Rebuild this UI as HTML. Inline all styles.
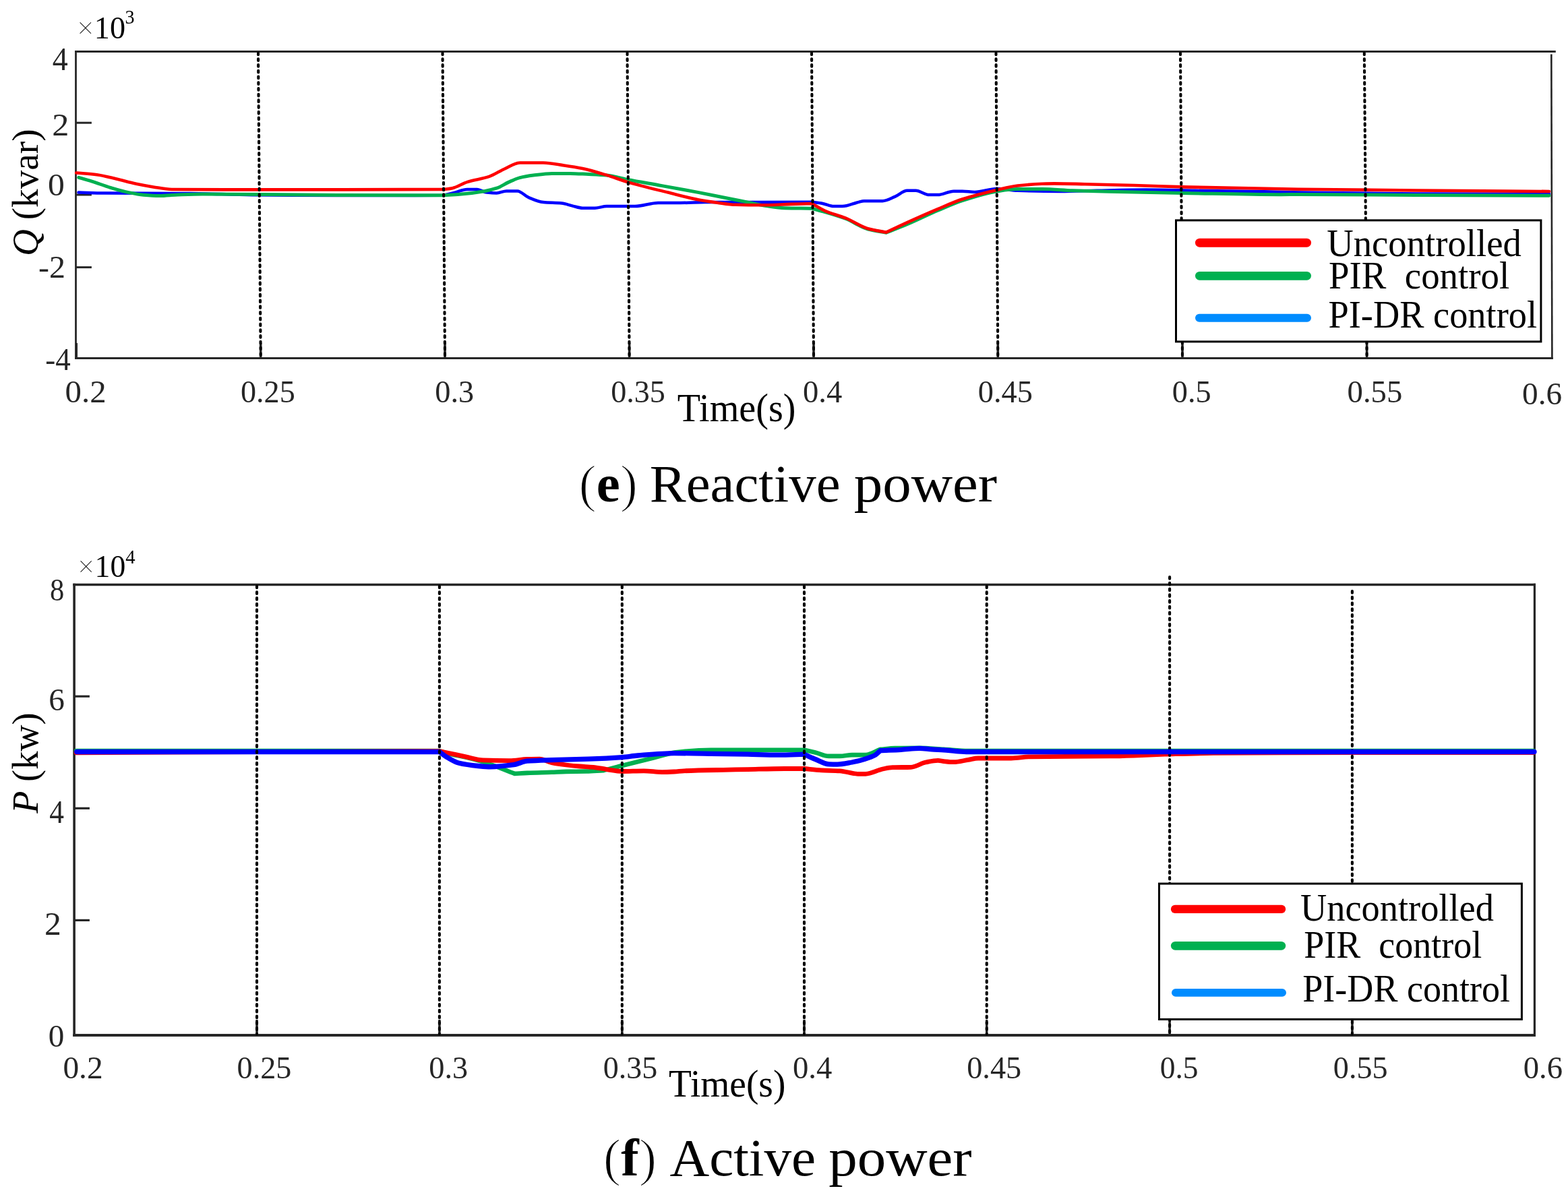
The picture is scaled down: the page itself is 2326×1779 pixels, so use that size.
<!DOCTYPE html>
<html lang="en">
<head>
<meta charset="utf-8">
<title>Reactive and active power</title>
<style>
html,body{margin:0;padding:0;background:#fff;}
body{width:2326px;height:1779px;overflow:hidden;}
svg{display:block;}
svg text{font-family:"Liberation Serif","DejaVu Serif",serif;}
</style>
</head>
<body>
<svg width="2326" height="1779" viewBox="0 0 2326 1779">
<rect x="0" y="0" width="2326" height="1779" fill="#ffffff"/>
<line x1="386.7" y1="509" x2="386.7" y2="531.6" stroke="#262626" stroke-width="3.6" stroke-linecap="butt"/>
<line x1="660" y1="509" x2="660" y2="531.6" stroke="#262626" stroke-width="3.6" stroke-linecap="butt"/>
<line x1="933.6" y1="509" x2="933.6" y2="531.6" stroke="#262626" stroke-width="3.6" stroke-linecap="butt"/>
<line x1="1207" y1="509" x2="1207" y2="531.6" stroke="#262626" stroke-width="3.6" stroke-linecap="butt"/>
<line x1="1480.3" y1="509" x2="1480.3" y2="531.6" stroke="#262626" stroke-width="3.6" stroke-linecap="butt"/>
<line x1="1754" y1="509" x2="1754" y2="531.6" stroke="#262626" stroke-width="3.6" stroke-linecap="butt"/>
<line x1="2027.6" y1="509" x2="2027.6" y2="531.6" stroke="#262626" stroke-width="3.6" stroke-linecap="butt"/>
<line x1="111.1" y1="76.5" x2="2307.8" y2="76.5" stroke="#262626" stroke-width="2.8" stroke-linecap="butt"/>
<line x1="111.1" y1="531.6" x2="2303.8" y2="531.6" stroke="#262626" stroke-width="3" stroke-linecap="butt"/>
<line x1="112.5" y1="75.1" x2="112.5" y2="533.1" stroke="#262626" stroke-width="2.8" stroke-linecap="butt"/>
<line x1="2301.3" y1="80.4" x2="2302.4" y2="533.1" stroke="#262626" stroke-width="2.6" stroke-linecap="butt"/>
<line x1="112.5" y1="182.2" x2="135.9" y2="182.2" stroke="#262626" stroke-width="3" stroke-linecap="butt"/>
<line x1="112.5" y1="289" x2="135.9" y2="289" stroke="#262626" stroke-width="3" stroke-linecap="butt"/>
<line x1="112.5" y1="396.6" x2="135.9" y2="396.6" stroke="#262626" stroke-width="3" stroke-linecap="butt"/>
<line x1="113.3" y1="509" x2="113.3" y2="531.6" stroke="#262626" stroke-width="3.4" stroke-linecap="butt"/>
<path d="M116.5,285.6C129.2,285.9 141.9,286.4 154.6,286.5C197.1,286.8 239.5,286.7 282.0,287.0C312.3,287.2 342.7,288.9 373.0,289.2C415.3,289.7 457.7,290.1 500.0,290.1C552.8,290.1 605.6,289.9 658.4,289.8C663.9,288.4 669.3,287.0 674.8,285.6C680.9,284.1 686.9,281.0 693.0,281.0C697.9,281.0 702.7,281.0 707.6,281.0C712.4,281.0 717.3,285.1 722.1,285.6C727.0,286.1 731.8,286.5 736.7,286.5C741.6,286.5 746.4,283.4 751.3,283.4C756.7,283.4 762.2,283.4 767.6,283.4C773.1,283.4 778.5,290.6 784.0,292.9C791.3,296.0 798.6,299.4 805.9,300.1C815.0,301.0 824.1,300.7 833.2,301.6C838.7,302.1 844.1,304.4 849.6,305.6C854.4,306.7 859.3,308.7 864.1,308.7C870.2,308.7 876.2,308.7 882.3,308.7C888.2,308.7 894.1,306.1 900.0,306.1C914.0,306.1 927.9,306.1 941.9,306.1C953.4,306.1 965.0,301.0 976.5,301.0C987.4,301.0 998.3,301.0 1009.2,301.0C1021.4,301.0 1033.5,300.2 1045.7,300.1C1098.5,299.9 1151.2,299.9 1204.0,299.8C1209.5,300.5 1214.9,301.0 1220.4,302.0C1225.9,303.0 1231.3,306.1 1236.8,306.1C1241.1,306.1 1245.3,306.1 1249.6,306.1C1257.3,306.1 1265.1,301.9 1272.8,300.1C1275.8,299.4 1278.9,298.2 1281.9,298.2C1291.0,298.2 1300.1,298.2 1309.2,298.2C1315.3,298.2 1321.3,294.4 1327.4,291.9C1333.5,289.4 1339.6,282.8 1345.7,282.8C1349.9,282.8 1354.2,282.8 1358.4,282.8C1365.1,282.8 1371.7,289.1 1378.4,289.1C1382.7,289.1 1386.9,289.1 1391.2,289.1C1399.1,289.1 1406.9,283.7 1414.8,283.7C1419.1,283.7 1423.3,283.7 1427.6,283.7C1433.7,283.7 1439.7,285.0 1445.8,285.0C1456.7,285.0 1467.7,280.0 1478.6,280.0C1488.9,280.0 1499.2,282.4 1509.5,282.8C1530.6,283.6 1551.7,284.1 1572.8,284.1C1591.0,284.1 1609.2,283.2 1627.4,282.8C1651.7,282.3 1676.0,281.6 1700.3,281.6C1724.6,281.6 1748.8,282.4 1773.1,282.8C1803.4,283.3 1833.8,283.6 1864.1,284.1C1884.7,284.5 1905.4,285.2 1926.0,285.5C1984.0,286.4 2042.0,287.3 2100.0,287.5C2166.0,287.8 2232.0,287.8 2298.0,288.0" fill="none" stroke="#0000ff" stroke-width="4.5" stroke-linejoin="round" stroke-linecap="round"/>
<path d="M116.8,263.4C123.3,265.3 129.9,267.2 136.4,269.2C145.5,272.0 154.6,275.6 163.7,278.3C172.8,281.0 181.9,283.8 191.0,285.6C198.3,287.1 205.6,288.6 212.9,289.2C220.8,289.9 228.6,290.5 236.5,290.5C245.6,290.5 254.8,289.2 263.9,288.9C276.0,288.5 288.2,288.0 300.3,288.0C330.5,288.0 360.8,288.3 391.0,288.5C427.3,288.7 463.7,289.3 500.0,289.4C552.8,289.6 605.6,289.7 658.4,289.8C666.3,289.3 674.1,288.9 682.0,288.3C694.2,287.3 706.3,285.8 718.5,283.7C724.6,282.6 730.6,281.2 736.7,279.2C742.8,277.2 748.8,272.8 754.9,270.1C760.4,267.7 765.8,265.1 771.3,263.7C778.0,262.0 784.6,261.0 791.3,260.1C800.4,258.9 809.5,257.4 818.6,257.4C827.7,257.4 836.8,257.4 845.9,257.4C855.0,257.4 864.1,258.2 873.2,258.6C882.1,259.0 891.1,259.3 900.0,260.1C910.3,261.0 920.7,264.5 931.0,266.5C948.0,269.8 964.9,272.5 981.9,275.6C1000.1,278.9 1018.4,282.1 1036.6,285.6C1051.8,288.5 1066.9,291.7 1082.1,294.7C1091.2,296.5 1100.3,298.3 1109.4,300.1C1118.5,301.9 1127.6,304.3 1136.7,305.6C1145.8,306.9 1154.9,308.5 1164.0,308.7C1177.3,309.0 1190.7,309.0 1204.0,309.2C1210.6,311.0 1217.1,312.7 1223.7,314.6C1234.0,317.6 1244.3,320.6 1254.6,324.5C1265.5,328.7 1276.5,337.1 1287.4,340.0C1296.5,342.4 1305.6,343.5 1314.7,345.2C1325.0,341.1 1335.4,337.2 1345.7,332.8C1360.9,326.4 1376.0,318.7 1391.2,312.3C1403.3,307.2 1415.5,301.6 1427.6,297.7C1444.6,292.2 1461.6,286.6 1478.6,284.0C1488.9,282.4 1499.2,280.6 1509.5,280.6C1521.6,280.6 1533.8,280.6 1545.9,280.6C1560.9,280.6 1576.0,282.3 1591.0,282.8C1609.2,283.4 1627.5,283.9 1645.7,284.3C1682.1,285.2 1718.5,285.9 1754.9,286.5C1803.3,287.3 1851.6,288.7 1900.0,288.7C1908.7,288.7 1917.3,288.5 1926.0,288.5C1984.0,288.5 2042.0,289.3 2100.0,289.6C2166.0,289.9 2232.0,290.1 2298.0,290.3" fill="none" stroke="#00b050" stroke-width="5.0" stroke-linejoin="round" stroke-linecap="round"/>
<path d="M113.2,256.5C123.4,257.4 133.5,257.9 143.7,259.2C153.4,260.4 163.1,263.2 172.8,265.5C182.5,267.8 192.3,270.8 202.0,272.8C210.5,274.6 218.9,276.1 227.4,277.4C236.5,278.8 245.7,280.9 254.8,281.0C282.1,281.3 309.4,281.4 336.7,281.4C391.1,281.4 445.6,281.4 500.0,281.4C552.8,281.4 605.6,281.1 658.4,281.0C662.6,280.4 666.9,280.1 671.1,279.2C678.4,277.7 685.7,272.4 693.0,270.1C703.9,266.6 714.9,265.6 725.8,261.9C733.1,259.4 740.3,254.2 747.6,251.0C755.5,247.5 763.4,241.5 771.3,241.5C782.8,241.5 794.4,241.5 805.9,241.5C816.2,241.5 826.5,244.0 836.8,245.5C845.9,246.8 855.0,248.2 864.1,250.1C876.1,252.6 888.0,256.3 900.0,259.9C910.3,263.0 920.7,267.1 931.0,270.1C951.0,276.0 971.0,280.6 991.0,285.6C1006.2,289.4 1021.4,293.7 1036.6,296.5C1045.7,298.2 1054.8,299.5 1063.9,300.7C1073.0,301.9 1082.1,303.6 1091.2,303.8C1103.3,304.1 1115.5,304.3 1127.6,304.3C1142.8,304.3 1157.9,303.4 1173.1,302.9C1183.4,302.6 1193.7,302.3 1204.0,302.0C1210.6,305.6 1217.1,309.9 1223.7,312.8C1234.0,317.3 1244.3,319.5 1254.6,323.7C1265.5,328.1 1276.5,336.1 1287.4,339.2C1296.5,341.7 1305.6,342.9 1314.7,344.7C1325.0,339.8 1335.4,334.8 1345.7,330.1C1360.9,323.2 1376.0,316.5 1391.2,310.1C1403.3,305.0 1415.5,299.4 1427.6,295.5C1444.6,290.0 1461.6,285.8 1478.6,281.9C1488.9,279.5 1499.2,276.6 1509.5,275.5C1521.6,274.2 1533.8,273.2 1545.9,272.8C1552.0,272.6 1558.0,272.4 1564.1,272.4C1579.1,272.4 1594.2,272.9 1609.2,273.2C1633.5,273.7 1657.8,274.3 1682.1,275.0C1706.4,275.7 1730.6,276.8 1754.9,277.4C1779.2,278.0 1803.4,278.2 1827.7,278.7C1860.5,279.3 1893.2,280.2 1926.0,280.7C1984.0,281.5 2042.0,282.0 2100.0,282.5C2166.0,283.1 2232.0,283.5 2298.0,284.0" fill="none" stroke="#ff0000" stroke-width="4.6" stroke-linejoin="round" stroke-linecap="round"/>
<line x1="383" y1="78.5" x2="386.7" y2="529.6" stroke="#000" stroke-width="4.1" stroke-linecap="round" stroke-dasharray="2.7 6.04"/>
<line x1="656.5" y1="78.5" x2="660" y2="529.6" stroke="#000" stroke-width="4.1" stroke-linecap="round" stroke-dasharray="2.7 6.04"/>
<line x1="930.5" y1="78.5" x2="933.6" y2="529.6" stroke="#000" stroke-width="4.1" stroke-linecap="round" stroke-dasharray="2.7 6.04"/>
<line x1="1204" y1="78.5" x2="1207" y2="529.6" stroke="#000" stroke-width="4.1" stroke-linecap="round" stroke-dasharray="2.7 6.04"/>
<line x1="1477.5" y1="78.5" x2="1480.3" y2="529.6" stroke="#000" stroke-width="4.1" stroke-linecap="round" stroke-dasharray="2.7 6.04"/>
<line x1="1751" y1="78.5" x2="1754" y2="529.6" stroke="#000" stroke-width="4.1" stroke-linecap="round" stroke-dasharray="2.7 6.04"/>
<line x1="2023.8" y1="78.5" x2="2027.6" y2="529.6" stroke="#000" stroke-width="4.1" stroke-linecap="round" stroke-dasharray="2.7 6.04"/>
<rect x="1744.5" y="326.9" width="541.4" height="180.0" fill="#fff" stroke="#000" stroke-width="3"/>
<line x1="1779.55" y1="360.2" x2="1938.45" y2="360.2" stroke="#ff0000" stroke-width="13.1" stroke-linecap="round"/>
<line x1="1779.4" y1="409.3" x2="1938.6" y2="409.3" stroke="#00b050" stroke-width="12.8" stroke-linecap="round"/>
<line x1="1779.0" y1="471.7" x2="1939.0" y2="471.7" stroke="#008cff" stroke-width="12" stroke-linecap="round"/>
<text transform="translate(1968.21,379.50) scale(0.9685,1)" font-size="56.50" fill="#000000" xml:space="preserve">Uncontrolled</text>
<text transform="translate(1971.05,428.30) scale(0.9709,1)" font-size="56.50" fill="#000000" xml:space="preserve">PIR  control</text>
<text transform="translate(1970.47,485.50) scale(0.9626,1)" font-size="56.50" fill="#000000" xml:space="preserve">PI-DR control</text>
<text transform="translate(77.68,104.14) scale(0.9681,1)" font-size="47.54" fill="#262626" xml:space="preserve">4</text>
<text transform="translate(77.24,201.10) scale(1.0733,1)" font-size="46.82" fill="#262626" xml:space="preserve">2</text>
<text transform="translate(70.91,289.54) scale(1.0844,1)" font-size="45.78" fill="#262626" xml:space="preserve">0</text>
<text transform="translate(57.02,411.80) scale(1.0214,1)" font-size="46.97" fill="#262626" xml:space="preserve">-2</text>
<text transform="translate(67.33,548.93) scale(0.9622,1)" font-size="46.77" fill="#262626" xml:space="preserve">-4</text>
<text transform="translate(113.77,56.73) scale(0.9911,1)" font-size="46.67" fill="#000000" xml:space="preserve"><tspan stroke="#fff" stroke-width="1.3">×</tspan>10</text>
<text transform="translate(185.60,35.00) scale(0.9396,1)" font-size="29.85" fill="#000000" xml:space="preserve">3</text>
<text transform="translate(96.55,597.19) scale(1.0377,1)" font-size="47.06" fill="#262626" xml:space="preserve">0.2</text>
<text transform="translate(356.95,597.19) scale(0.9811,1)" font-size="47.06" fill="#262626" xml:space="preserve">0.25</text>
<text transform="translate(645.25,597.19) scale(0.9844,1)" font-size="47.06" fill="#262626" xml:space="preserve">0.3</text>
<text transform="translate(906.15,597.19) scale(0.9811,1)" font-size="47.06" fill="#262626" xml:space="preserve">0.35</text>
<text transform="translate(1191.04,597.19) scale(0.9905,1)" font-size="47.06" fill="#262626" xml:space="preserve">0.4</text>
<text transform="translate(1450.75,597.19) scale(0.9849,1)" font-size="47.06" fill="#262626" xml:space="preserve">0.45</text>
<text transform="translate(1738.85,597.19) scale(0.9844,1)" font-size="47.06" fill="#262626" xml:space="preserve">0.5</text>
<text transform="translate(1998.53,597.19) scale(0.9925,1)" font-size="47.06" fill="#262626" xml:space="preserve">0.55</text>
<text transform="translate(2258.11,599.70) scale(1.0080,1)" font-size="46.91" fill="#262626" xml:space="preserve">0.6</text>
<text transform="translate(1004.78,624.50) scale(0.9657,1)" font-size="58.11" fill="#000000" xml:space="preserve">Time(s)</text>
<text transform="translate(56.25,380.04) rotate(-90) scale(1.0043,1)" font-size="55.00" fill="#000000" xml:space="preserve"><tspan font-style="italic">Q</tspan> (kvar)</text>
<text transform="translate(858.56,743.60) scale(1.0104,1)" font-size="78.00" fill="#000000" xml:space="preserve"><tspan stroke="#fff" stroke-width="1.7">(</tspan><tspan font-weight="bold">e</tspan><tspan stroke="#fff" stroke-width="1.7">)</tspan></text>
<text transform="translate(963.77,743.60) scale(1.0368,1)" font-size="78.00" fill="#000000" xml:space="preserve">Reactive</text>
<text transform="translate(1266.72,743.60) scale(1.0899,1)" font-size="78.00" fill="#000000" xml:space="preserve">power</text>
<line x1="381" y1="1513" x2="381" y2="1536.0" stroke="#262626" stroke-width="3.5" stroke-linecap="butt"/>
<line x1="651.9" y1="1513" x2="651.9" y2="1536.0" stroke="#262626" stroke-width="3.5" stroke-linecap="butt"/>
<line x1="922.8" y1="1513" x2="922.8" y2="1536.0" stroke="#262626" stroke-width="3.5" stroke-linecap="butt"/>
<line x1="1193" y1="1513" x2="1193" y2="1536.0" stroke="#262626" stroke-width="3.5" stroke-linecap="butt"/>
<line x1="1463.7" y1="1513" x2="1463.7" y2="1536.0" stroke="#262626" stroke-width="3.5" stroke-linecap="butt"/>
<line x1="1735.1" y1="1513" x2="1735.1" y2="1536.0" stroke="#262626" stroke-width="3.5" stroke-linecap="butt"/>
<line x1="2005.9" y1="1513" x2="2005.9" y2="1536.0" stroke="#262626" stroke-width="3.5" stroke-linecap="butt"/>
<line x1="108.3" y1="867.5" x2="2278" y2="867.5" stroke="#262626" stroke-width="3.4" stroke-linecap="butt"/>
<line x1="108.3" y1="1536.0" x2="2278" y2="1536.0" stroke="#262626" stroke-width="3.8" stroke-linecap="butt"/>
<line x1="110.1" y1="865.8" x2="110.1" y2="1537.9" stroke="#262626" stroke-width="3.6" stroke-linecap="butt"/>
<line x1="2276.4" y1="865.8" x2="2276.4" y2="1537.9" stroke="#262626" stroke-width="3.2" stroke-linecap="butt"/>
<line x1="110.1" y1="1033.2" x2="132.9" y2="1033.2" stroke="#262626" stroke-width="3.2" stroke-linecap="butt"/>
<line x1="110.1" y1="1199.3" x2="132.9" y2="1199.3" stroke="#262626" stroke-width="3.2" stroke-linecap="butt"/>
<line x1="110.1" y1="1365.4" x2="132.9" y2="1365.4" stroke="#262626" stroke-width="3.2" stroke-linecap="butt"/>
<path d="M113.0,1114.1C292.6,1114.1 472.3,1114.1 651.9,1114.1C655.8,1115.3 659.8,1116.7 663.7,1117.7C672.8,1120.1 681.9,1121.4 691.0,1123.6C699.5,1125.6 708.0,1127.8 716.5,1130.4C732.1,1135.2 747.8,1142.1 763.4,1147.9C769.6,1147.6 775.9,1147.1 782.1,1146.9C794.2,1146.4 806.4,1146.2 818.5,1145.8C825.7,1145.5 832.8,1145.0 840.0,1144.9C850.0,1144.7 860.0,1144.7 870.0,1144.5C878.3,1144.3 886.7,1143.6 895.0,1143.2C904.3,1140.8 913.5,1138.3 922.8,1136.0C930.5,1134.1 938.2,1132.2 945.9,1130.3C950.6,1129.1 955.3,1128.0 960.0,1126.8C966.7,1125.1 973.3,1123.3 980.0,1121.6C986.7,1119.9 993.3,1117.4 1000.0,1116.6C1018.2,1114.4 1036.4,1112.8 1054.6,1112.8C1100.7,1112.8 1146.9,1112.8 1193.0,1112.8C1198.5,1114.0 1203.9,1115.2 1209.4,1116.5C1216.1,1118.1 1222.7,1121.9 1229.4,1121.9C1234.9,1121.9 1240.3,1121.9 1245.8,1121.9C1251.9,1121.9 1257.9,1120.1 1264.0,1120.1C1270.7,1120.1 1277.3,1120.1 1284.0,1120.1C1291.3,1120.1 1298.6,1114.6 1305.9,1111.9C1313.2,1111.3 1320.4,1110.3 1327.7,1110.1C1339.8,1109.8 1352.0,1109.7 1364.1,1109.7C1376.1,1109.7 1388.0,1111.2 1400.0,1111.9C1412.1,1112.6 1424.3,1114.1 1436.4,1114.1C1715.9,1114.1 1995.5,1114.1 2275.0,1114.1" fill="none" stroke="#00b050" stroke-width="6.6" stroke-linejoin="round" stroke-linecap="round"/>
<path d="M113.0,1116.8C292.6,1116.0 472.3,1115.3 651.9,1114.5C655.8,1115.3 659.8,1116.2 663.7,1117.0C672.8,1118.9 681.9,1120.9 691.0,1122.8C699.5,1124.6 708.0,1127.6 716.5,1127.9C729.3,1128.4 742.0,1128.7 754.8,1128.7C763.9,1128.7 773.0,1126.8 782.1,1126.5C788.2,1126.3 794.2,1126.1 800.3,1126.1C806.4,1126.1 812.4,1130.3 818.5,1131.6C825.7,1133.1 832.8,1134.1 840.0,1135.0C846.7,1135.8 853.3,1136.5 860.0,1137.0C866.7,1137.5 873.3,1137.7 880.0,1138.3C886.7,1138.9 893.3,1140.6 900.0,1141.6C907.6,1142.7 915.2,1144.5 922.8,1144.5C933.5,1144.5 944.3,1143.8 955.0,1143.8C964.1,1143.8 973.2,1145.6 982.3,1145.6C988.2,1145.6 994.1,1145.3 1000.0,1145.0C1004.9,1144.8 1009.7,1144.0 1014.6,1143.8C1034.0,1143.0 1053.4,1142.7 1072.8,1142.3C1084.9,1142.0 1097.1,1141.8 1109.2,1141.6C1127.4,1141.2 1145.7,1140.5 1163.9,1140.5C1173.6,1140.5 1183.3,1140.5 1193.0,1140.5C1201.5,1141.3 1210.0,1142.5 1218.5,1142.9C1227.6,1143.3 1236.7,1143.3 1245.8,1143.8C1254.9,1144.3 1264.0,1148.3 1273.1,1148.3C1276.7,1148.3 1280.4,1148.3 1284.0,1148.3C1292.5,1148.3 1301.0,1142.7 1309.5,1141.0C1314.4,1140.0 1319.2,1138.8 1324.1,1138.7C1333.2,1138.4 1342.3,1138.6 1351.4,1138.3C1358.7,1138.1 1365.9,1132.5 1373.2,1131.0C1379.3,1129.8 1385.3,1128.3 1391.4,1128.3C1394.3,1128.3 1397.1,1129.3 1400.0,1129.6C1404.9,1130.1 1409.7,1130.7 1414.6,1130.7C1421.9,1130.7 1429.1,1128.5 1436.4,1127.4C1441.3,1126.6 1446.1,1125.0 1451.0,1125.0C1467.3,1125.0 1483.7,1125.0 1500.0,1125.0C1509.1,1125.0 1518.3,1123.0 1527.4,1122.8C1545.6,1122.5 1563.8,1122.4 1582.0,1122.3C1603.3,1122.1 1624.5,1122.1 1645.8,1121.9C1657.9,1121.8 1670.1,1121.4 1682.2,1121.0C1697.4,1120.5 1712.5,1119.7 1727.7,1119.2C1751.8,1118.5 1775.9,1117.6 1800.0,1117.4C1866.7,1116.9 1933.3,1116.6 2000.0,1116.6C2091.7,1116.6 2183.3,1116.6 2275.0,1116.6" fill="none" stroke="#ff0000" stroke-width="6.8" stroke-linejoin="round" stroke-linecap="round"/>
<line x1="922.8" y1="869.5" x2="922.8" y2="1534.0" stroke="#000" stroke-width="4.1" stroke-linecap="round" stroke-dasharray="2.7 6.04"/>
<line x1="1463.7" y1="869.5" x2="1463.7" y2="1534.0" stroke="#000" stroke-width="4.1" stroke-linecap="round" stroke-dasharray="2.7 6.04"/>
<line x1="1735.1" y1="856" x2="1735.1" y2="1534.0" stroke="#000" stroke-width="4.1" stroke-linecap="round" stroke-dasharray="2.7 6.04"/>
<line x1="2005.9" y1="877" x2="2005.9" y2="1534.0" stroke="#000" stroke-width="4.1" stroke-linecap="round" stroke-dasharray="2.7 6.04"/>
<path d="M113.8,1115.5C293.2,1115.5 472.5,1115.5 651.9,1115.5C655.2,1117.9 658.6,1120.8 661.9,1122.8C668.0,1126.5 674.0,1130.5 680.1,1132.0C689.8,1134.4 699.5,1135.6 709.2,1136.5C715.3,1137.1 721.3,1137.8 727.4,1137.8C738.9,1137.8 750.5,1136.3 762.0,1134.7C768.7,1133.8 775.4,1129.7 782.1,1129.2C794.2,1128.2 806.4,1128.0 818.5,1127.6C836.7,1127.0 854.9,1126.8 873.1,1126.2C889.7,1125.6 906.2,1124.8 922.8,1123.6C930.5,1123.0 938.2,1121.6 945.9,1121.0C963.9,1119.5 982.0,1117.6 1000.0,1117.6C1018.2,1117.6 1036.4,1118.0 1054.6,1118.3C1072.8,1118.6 1091.0,1118.9 1109.2,1119.2C1124.4,1119.5 1139.6,1120.1 1154.8,1120.1C1167.5,1120.1 1180.3,1119.5 1193.0,1119.2C1198.5,1121.6 1203.9,1124.3 1209.4,1126.5C1216.1,1129.2 1222.7,1133.5 1229.4,1133.8C1233.7,1134.0 1237.9,1134.1 1242.2,1134.1C1249.5,1134.1 1256.7,1132.3 1264.0,1131.0C1270.1,1129.9 1276.1,1128.3 1282.2,1126.5C1287.7,1124.8 1293.1,1123.2 1298.6,1120.1C1301.0,1118.7 1303.5,1115.8 1305.9,1113.7C1316.2,1113.2 1326.5,1112.9 1336.8,1112.3C1345.9,1111.8 1355.0,1110.4 1364.1,1110.4C1370.2,1110.4 1376.2,1111.5 1382.3,1111.9C1388.2,1112.3 1394.1,1112.4 1400.0,1112.8C1406.1,1113.2 1412.1,1114.2 1418.2,1114.6C1424.3,1115.0 1430.3,1115.5 1436.4,1115.5C1557.6,1115.5 1678.8,1115.5 1800.0,1115.5C1958.7,1115.5 2117.3,1115.5 2276.0,1115.5" fill="none" stroke="#0000ff" stroke-width="7.3" stroke-linejoin="round" stroke-linecap="round"/>
<line x1="381" y1="869.5" x2="381" y2="1534.0" stroke="#000" stroke-width="4.1" stroke-linecap="round" stroke-dasharray="2.7 6.04"/>
<line x1="651.9" y1="869.5" x2="651.9" y2="1534.0" stroke="#000" stroke-width="4.1" stroke-linecap="round" stroke-dasharray="2.7 6.04"/>
<line x1="1193" y1="869.5" x2="1193" y2="1534.0" stroke="#000" stroke-width="4.1" stroke-linecap="round" stroke-dasharray="2.7 6.04"/>
<rect x="1719.5" y="1311.1" width="537.9" height="201.3" fill="#fff" stroke="#000" stroke-width="3"/>
<line x1="1743.0" y1="1348.9" x2="1901.1" y2="1348.9" stroke="#ff0000" stroke-width="12.2" stroke-linecap="round"/>
<line x1="1743.3" y1="1403.3" x2="1900.8" y2="1403.3" stroke="#00b050" stroke-width="12.8" stroke-linecap="round"/>
<line x1="1743.9" y1="1472.9" x2="1902.1" y2="1472.9" stroke="#008cff" stroke-width="11.8" stroke-linecap="round"/>
<text transform="translate(1929.01,1366.40) scale(0.9710,1)" font-size="56.00" fill="#000000" xml:space="preserve">Uncontrolled</text>
<text transform="translate(1934.28,1421.40) scale(0.9644,1)" font-size="56.00" fill="#000000" xml:space="preserve">PIR  control</text>
<text transform="translate(1932.28,1486.40) scale(0.9655,1)" font-size="56.00" fill="#000000" xml:space="preserve">PI-DR control</text>
<text transform="translate(73.90,890.64) scale(0.9191,1)" font-size="46.37" fill="#262626" xml:space="preserve">8</text>
<text transform="translate(72.27,1053.83) scale(1.0091,1)" font-size="46.87" fill="#262626" xml:space="preserve">6</text>
<text transform="translate(73.13,1221.34) scale(0.9050,1)" font-size="48.00" fill="#262626" xml:space="preserve">4</text>
<text transform="translate(65.96,1387.30) scale(1.0391,1)" font-size="47.88" fill="#262626" xml:space="preserve">2</text>
<text transform="translate(71.81,1552.74) scale(1.0232,1)" font-size="46.07" fill="#262626" xml:space="preserve">0</text>
<text transform="translate(114.87,856.03) scale(0.9662,1)" font-size="47.26" fill="#000000" xml:space="preserve"><tspan stroke="#fff" stroke-width="1.3">×</tspan>10</text>
<text transform="translate(186.18,835.55) scale(0.9669,1)" font-size="29.69" fill="#000000" xml:space="preserve">4</text>
<text transform="translate(93.40,1600.19) scale(1.0082,1)" font-size="47.06" fill="#262626" xml:space="preserve">0.2</text>
<text transform="translate(351.55,1600.19) scale(0.9811,1)" font-size="47.06" fill="#262626" xml:space="preserve">0.25</text>
<text transform="translate(636.35,1600.19) scale(0.9844,1)" font-size="47.06" fill="#262626" xml:space="preserve">0.3</text>
<text transform="translate(894.76,1600.19) scale(0.9772,1)" font-size="47.06" fill="#262626" xml:space="preserve">0.35</text>
<text transform="translate(1176.03,1600.19) scale(0.9923,1)" font-size="47.06" fill="#262626" xml:space="preserve">0.4</text>
<text transform="translate(1434.15,1600.19) scale(0.9849,1)" font-size="47.06" fill="#262626" xml:space="preserve">0.45</text>
<text transform="translate(1720.68,1600.19) scale(0.9662,1)" font-size="47.06" fill="#262626" xml:space="preserve">0.5</text>
<text transform="translate(1977.85,1600.19) scale(0.9811,1)" font-size="47.06" fill="#262626" xml:space="preserve">0.55</text>
<text transform="translate(2259.73,1600.19) scale(0.9923,1)" font-size="47.06" fill="#262626" xml:space="preserve">0.6</text>
<text transform="translate(991.99,1626.89) scale(0.9607,1)" font-size="57.67" fill="#000000" xml:space="preserve">Time(s)</text>
<text transform="translate(56.25,1206.73) rotate(-90) scale(0.9883,1)" font-size="55.00" fill="#000000" xml:space="preserve"><tspan font-style="italic">P</tspan> (kw)</text>
<text transform="translate(894.73,1743.70) scale(1.0185,1)" font-size="78.00" fill="#000000" xml:space="preserve"><tspan stroke="#fff" stroke-width="1.7">(</tspan><tspan font-weight="bold">f</tspan><tspan stroke="#fff" stroke-width="1.7">)</tspan></text>
<text transform="translate(993.49,1743.70) scale(1.0423,1)" font-size="78.00" fill="#000000" xml:space="preserve">Active</text>
<text transform="translate(1229.23,1743.70) scale(1.0894,1)" font-size="78.00" fill="#000000" xml:space="preserve">power</text>
</svg>
</body>
</html>
